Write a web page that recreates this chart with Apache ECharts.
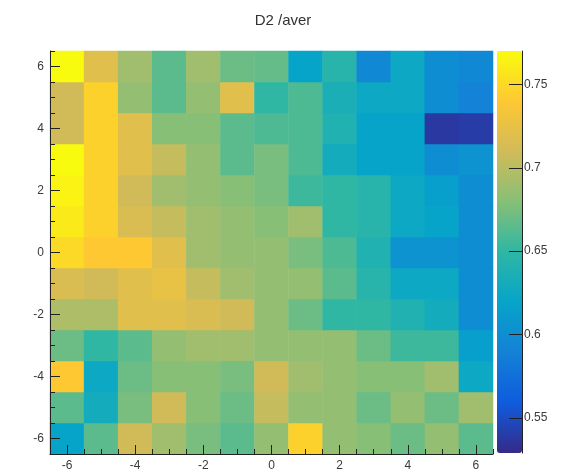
<!DOCTYPE html>
<html>
<head>
<meta charset="utf-8">
<script src="https://cdn.jsdelivr.net/npm/echarts@6/dist/echarts.min.js"></script>
<style>
	html, body { margin: 0; padding: 0; background: #fff; }
	#chart { width: 566px; height: 475px; }
</style>
</head>
<body>
<div id="chart"></div>
<script>
// bins, centred on integers
let xCats = ["-6", "-5", "-4", "-3", "-2", "-1", "0", "1", "2", "3", "4", "5", "6"]
let yCats = ["-6", "-5", "-4", "-3", "-2", "-1", "0", "1", "2", "3", "4", "5", "6"]

// one row per y bin, x from -6 to 6
let rowP6 = [0.770, 0.720, 0.690, 0.665, 0.690, 0.670, 0.668, 0.620, 0.645, 0.595, 0.625, 0.600, 0.595]
let rowP5 = [0.710, 0.745, 0.685, 0.665, 0.685, 0.720, 0.650, 0.660, 0.635, 0.625, 0.625, 0.600, 0.590]
let rowP4 = [0.710, 0.745, 0.720, 0.680, 0.680, 0.665, 0.660, 0.660, 0.640, 0.620, 0.620, 0.538, 0.540]
let rowP3 = [0.770, 0.745, 0.720, 0.705, 0.685, 0.665, 0.675, 0.660, 0.630, 0.620, 0.620, 0.600, 0.605]
let rowP2 = [0.765, 0.745, 0.710, 0.690, 0.685, 0.680, 0.675, 0.655, 0.650, 0.645, 0.625, 0.615, 0.600]
let rowP1 = [0.760, 0.745, 0.715, 0.705, 0.690, 0.685, 0.680, 0.690, 0.650, 0.645, 0.625, 0.620, 0.600]
let row0 = [0.750, 0.740, 0.740, 0.720, 0.690, 0.685, 0.685, 0.675, 0.660, 0.640, 0.605, 0.605, 0.600]
let rowM1 = [0.715, 0.710, 0.720, 0.725, 0.705, 0.690, 0.685, 0.685, 0.665, 0.645, 0.625, 0.625, 0.600]
let rowM2 = [0.695, 0.695, 0.720, 0.720, 0.715, 0.710, 0.685, 0.670, 0.650, 0.650, 0.640, 0.630, 0.600]
let rowM3 = [0.670, 0.650, 0.665, 0.685, 0.690, 0.690, 0.685, 0.685, 0.685, 0.670, 0.655, 0.655, 0.615]
let rowM4 = [0.740, 0.625, 0.670, 0.680, 0.680, 0.675, 0.710, 0.690, 0.685, 0.680, 0.680, 0.690, 0.625]
let rowM5 = [0.665, 0.630, 0.675, 0.710, 0.680, 0.670, 0.705, 0.685, 0.685, 0.670, 0.685, 0.670, 0.690]
let rowM6 = [0.620, 0.665, 0.710, 0.690, 0.675, 0.665, 0.685, 0.745, 0.685, 0.680, 0.670, 0.685, 0.665]

// axis ticks
let xTicks = [-6, -4, -2, 0, 2, 4, 6]
let yTicks = [-6, -4, -2, 0, 2, 4, 6]
let zTicks = [0.55, 0.6, 0.65, 0.7, 0.75]
let zMin = 0.529
let zMax = 0.770

// kBird palette
let palette = ["#352a87", "#0f5cdd", "#1481d6", "#06a4ca", "#2eb7a4", "#87bf77", "#d1bb59", "#fec832", "#f9fb0e"]

let rows = [rowM6, rowM5, rowM4, rowM3, rowM2, rowM1, row0, rowP1, rowP2, rowP3, rowP4, rowP5, rowP6]
let data = []
rows.forEach(function (row, yi) {
	row.forEach(function (v, xi) {
		data.push([xi, yi, v])
	})
})

let font = "Liberation Sans"
let textColor = "#3a3a3a"
let lineColor = "#222"

let chart = echarts.init(document.getElementById("chart"))
chart.setOption({
	animation: false,
	title: {
		text: "D2 /aver",
		left: "center",
		top: 8,
		textStyle: {
			fontFamily: font,
			fontSize: 15,
			fontWeight: "normal",
			color: "#333"
		}
	},
	grid: [
		{left: 50, top: 51, width: 443, height: 403},
		{left: 497, top: 51, width: 25, height: 402}
	],
	xAxis: [
		{type: "category", data: xCats, gridIndex: 0, position: "top", show: false},
		{
			type: "value", gridIndex: 0, min: -6.5, max: 6.5, position: "bottom", z: 10,
			axisLine: {show: true, onZero: false, lineStyle: {color: lineColor, width: 1}},
			splitLine: {show: false},
			axisTick: {show: true, inside: true, length: 9, customValues: xTicks, lineStyle: {color: lineColor}},
			axisLabel: {customValues: xTicks, margin: 6, fontFamily: font, fontSize: 12, color: textColor}
		},
		{
			type: "value", gridIndex: 0, min: -6.5, max: 6.5, interval: 0.5, position: "bottom", z: 10,
			axisLine: {show: false, onZero: false},
			splitLine: {show: false},
			axisTick: {show: true, inside: true, length: 5, lineStyle: {color: lineColor}},
			axisLabel: {show: false}
		},
		{type: "value", gridIndex: 1, show: false, min: 0, max: 1}
	],
	yAxis: [
		{type: "category", data: yCats, gridIndex: 0, position: "right", show: false},
		{
			type: "value", gridIndex: 0, min: -6.5, max: 6.5, position: "left", z: 10,
			axisLine: {show: true, onZero: false, lineStyle: {color: lineColor, width: 1}},
			splitLine: {show: false},
			axisTick: {show: true, inside: true, length: 10, customValues: yTicks, lineStyle: {color: lineColor}},
			axisLabel: {customValues: yTicks, margin: 6, fontFamily: font, fontSize: 12, color: textColor}
		},
		{
			type: "value", gridIndex: 0, min: -6.5, max: 6.5, interval: 0.5, position: "left", z: 10,
			axisLine: {show: false, onZero: false},
			splitLine: {show: false},
			axisTick: {show: true, inside: true, length: 5, lineStyle: {color: lineColor}},
			axisLabel: {show: false}
		},
		{
			type: "value", gridIndex: 1, min: zMin, max: zMax, position: "right", z: 10,
			axisLine: {show: true, onZero: false, lineStyle: {color: lineColor, width: 1}},
			splitLine: {show: false},
			axisTick: {show: true, inside: true, length: 13, customValues: zTicks, lineStyle: {color: lineColor}},
			axisLabel: {customValues: zTicks, margin: 2, fontFamily: font, fontSize: 12, color: textColor}
		}
	],
	visualMap: {
		type: "continuous",
		min: zMin,
		max: zMax,
		seriesIndex: 0,
		calculable: false,
		hoverLink: false,
		z: 1,
		left: 497,
		top: 51,
		padding: 0,
		itemWidth: 25,
		itemHeight: 402,
		inRange: {color: palette}
	},
	series: [
		{
			type: "heatmap",
			xAxisIndex: 0,
			yAxisIndex: 0,
			data: data,
			itemStyle: {borderWidth: 0}
		}
	]
})
</script>
</body>
</html>
